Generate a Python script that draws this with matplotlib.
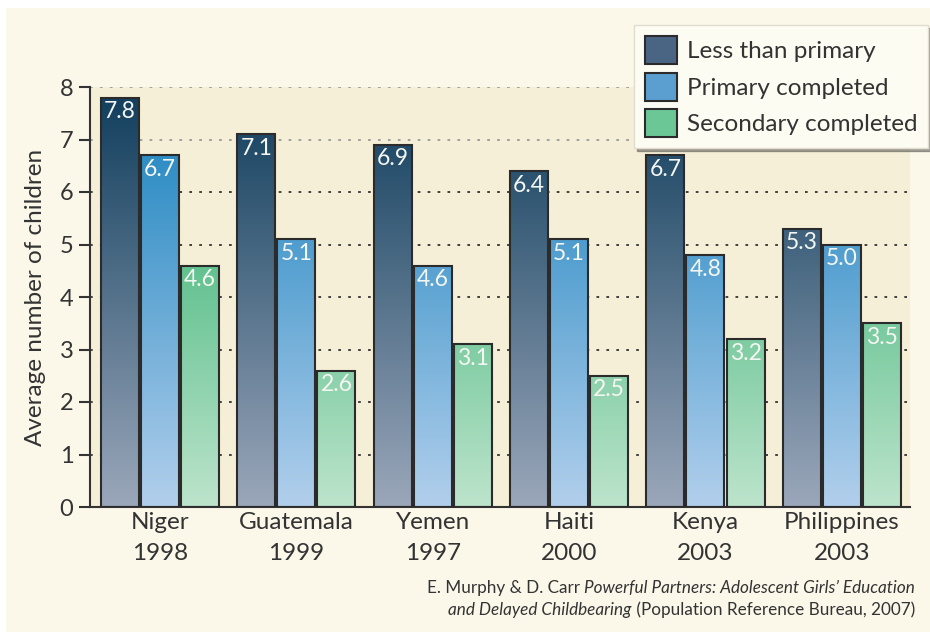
import numpy as np
import matplotlib
matplotlib.use("Agg")
import matplotlib.pyplot as plt
from matplotlib.colors import LinearSegmentedColormap
from matplotlib.patches import Rectangle

plt.rcParams['font.family'] = ['Lato', 'DejaVu Sans']

# data
countries = ["Niger", "Guatemala", "Yemen", "Haiti", "Kenya", "Philippines"]
years = ["1998", "1999", "1997", "2000", "2003", "2003"]
less_than_primary = [7.8, 7.1, 6.9, 6.4, 6.7, 5.3]
primary_completed = [6.7, 5.1, 4.6, 5.1, 4.8, 5.0]
secondary_completed = [4.6, 2.6, 3.1, 2.5, 3.2, 3.5]
series_names = ["Less than primary", "Primary completed", "Secondary completed"]
yticks = [0, 1, 2, 3, 4, 5, 6, 7, 8]

# gradient colours: (bottom, top) at y=0 and y=8
grads = [("#9ba7ba", "#0f3d5c"), ("#b2cfec", "#1580bd"), ("#bde4cc", "#1fa863")]
mids = ["#4a6583", "#5b9fd0", "#6cc797"]

fig = plt.figure(figsize=(9.3, 6.32), dpi=100, facecolor="white")
# cream panel
fig.patches.append(Rectangle((6/930, 0), 1, 1 - 8/632, transform=fig.transFigure,
                             facecolor="#fbf8ea", edgecolor="none", zorder=-10))

ax = fig.add_axes([90/930, 1 - 507/632, 820/930, 420/632])
ax.set_facecolor("#f6efd7")

x = np.arange(len(countries))
w = 0.279
off = 0.294
grad_img = np.linspace(0, 1, 256).reshape(-1, 1)

for i, vals in enumerate([less_than_primary, primary_completed, secondary_completed]):
    cmap = LinearSegmentedColormap.from_list("g%d" % i, [grads[i][0], grads[i][1]])
    bars = ax.bar(x + (i - 1) * off, vals, width=w, facecolor="none",
                  edgecolor="#2b2b2b", linewidth=1.5, zorder=3)
    for b, v in zip(bars, vals):
        x0 = b.get_x()
        im = ax.imshow(grad_img, cmap=cmap, origin="lower", aspect="auto",
                       extent=[x0, x0 + b.get_width(), 0, 8], zorder=2)
        im.set_clip_path(b)
        ax.text(x0 + b.get_width() / 2, v - 0.07, "%.1f" % v, ha="center", va="top",
                color="#f4f6f2", fontsize=16.5, zorder=4)

ax.set_xlim(-0.513, 5.5)
ax.set_ylim(0, 8)

# grid
for yv in yticks[1:]:
    c = "#999999" if yv >= 7 else "#333333"
    ax.axhline(yv, color=c, linestyle=(0, (1.5, 4)), linewidth=1.3, zorder=1)

ax.set_yticks(yticks)
ax.tick_params(axis="y", direction="out", length=8, width=1.5, color="#333333",
               labelsize=17, labelcolor="#333333", pad=4)
ax.set_xticks([])
for s in ["top", "right"]:
    ax.spines[s].set_visible(False)
ax.spines["left"].set_color("#333333")
ax.spines["left"].set_linewidth(1.5)
ax.spines["bottom"].set_color("#333333")
ax.spines["bottom"].set_linewidth(1.5)

for xi, c, yr in zip(x, countries, years):
    ax.text(xi, -0.1, c + "\n" + yr, ha="center", va="top", fontsize=17.5,
            color="#333333", linespacing=1.55)

fig.text(35/930, 1 - 297/632, "Average number of children", rotation=90,
         ha="center", va="center", fontsize=17.5, color="#333333")

# legend
handles = [Rectangle((0, 0), 1, 1, facecolor=m, edgecolor="#2b2b2b", linewidth=1.5)
           for m in mids]
leg = fig.legend(handles, series_names, loc="upper right",
                 bbox_to_anchor=(928/930, 1 - 25/632), fontsize=17.5,
                 frameon=True, fancybox=False, shadow=True, borderaxespad=0,
                 handlelength=1.3, handleheight=1.4, labelspacing=0.35,
                 handletextpad=0.4, borderpad=0.45)
leg.get_frame().set_facecolor("#fdfcf3")
leg.get_frame().set_edgecolor("#e0ddd0")
for t in leg.get_texts():
    t.set_color("#333333")

# source caption
cap_kw = dict(fontsize=12.3, color="#333333", ha="right", va="center")
fig.canvas.draw()
r = fig.canvas.get_renderer()
t1 = fig.text(0.984, 1 - 588/632, "Powerful Partners: Adolescent Girls\u2019 Education",
              style="italic", **cap_kw)
bb = t1.get_window_extent(r)
fig.text(bb.x0 / fig.bbox.width, 1 - 588/632, "E. Murphy & D. Carr ", **cap_kw)
t2 = fig.text(0.984, 1 - 610/632, " (Population Reference Bureau, 2007)", **cap_kw)
bb = t2.get_window_extent(r)
fig.text(bb.x0 / fig.bbox.width, 1 - 610/632, "and Delayed Childbearing",
         style="italic", **cap_kw)

fig.savefig("out.png", dpi=100, facecolor=fig.get_facecolor())
